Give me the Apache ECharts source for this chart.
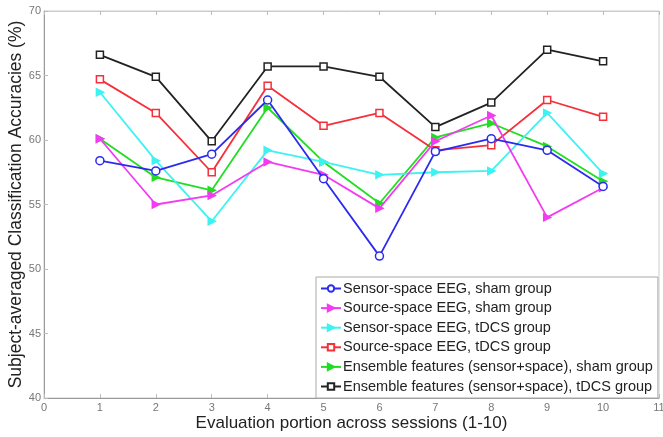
<!DOCTYPE html>
<html><head><meta charset="utf-8">
<script src="https://cdn.jsdelivr.net/npm/echarts@6/dist/echarts.min.js"></script>
<style>html,body{margin:0;padding:0;background:#fff}#c{width:663px;height:437px}</style>
</head><body><div id="c"></div>
<script>
const sessions = [1,2,3,4,5,6,7,8,9,10];
const xTicks = [0,1,2,3,4,5,6,7,8,9,10,11];
const yTicks = [40,45,50,55,60,65,70];
const seriesNames = [
  'Sensor-space EEG, sham group',
  'Source-space EEG, sham group',
  'Sensor-space EEG, tDCS group',
  'Source-space EEG, tDCS group',
  'Ensemble features (sensor+space), sham group',
  'Ensemble features (sensor+space), tDCS group'
];
const sensorSham   = [58.4, 57.6, 58.9, 63.1, 57.0, 51.0, 59.1, 60.1, 59.2, 56.4];
const sourceSham   = [60.1, 55.0, 55.7, 58.3, 57.3, 54.7, 59.9, 61.9, 54.0, 56.3];
const sensorTdcs   = [63.7, 58.4, 53.7, 59.2, 58.3, 57.3, 57.5, 57.6, 62.1, 57.4];
const sourceTdcs   = [64.7, 62.1, 57.5, 64.2, 61.1, 62.1, 59.2, 59.6, 63.1, 61.8];
const ensembleSham = [60.1, 57.1, 56.1, 62.5, 58.3, 55.1, 60.2, 61.3, 59.5, 56.8];
const ensembleTdcs = [66.6, 64.9, 59.9, 65.7, 65.7, 64.9, 61.0, 62.9, 67.0, 66.1];

const allData = [sensorSham, sourceSham, sensorTdcs, sourceTdcs, ensembleSham, ensembleTdcs];
const colors = ['#2b2bf0', '#f23cf2', '#3ef2f2', '#f5303a', '#22dd22', '#222222'];
const symbols = ['circle', 'triangle', 'triangle', 'rect', 'triangle', 'rect'];
const rot = [0, -90, -90, 0, -90, 0];
const filled = [false, true, true, false, true, false];

const chart = echarts.init(document.getElementById('c'), null, {renderer:'canvas'});
const font = 'Liberation Sans, Arial, sans-serif';
const series = allData.map((d, i) => ({
  name: seriesNames[i],
  type: 'line',
  data: sessions.map((s, j) => [s, d[j]]),
  symbol: symbols[i],
  symbolRotate: rot[i],
  symbolSize: i===0 ? 8 : 7,
  showAllSymbol: true,
  lineStyle: {color: colors[i], width: 1.8},
  itemStyle: {color: filled[i] ? colors[i] : '#fff', borderColor: colors[i], borderWidth: 1.5},
  z: 10 - i
}));
chart.setOption({
  animation: false,
  grid: {left: 44, right: 4, top: 11, bottom: 39, show: true, borderColor: '#cccccc', borderWidth: 1,
         containLabel: false, outerBoundsMode: 'none'},
  legend: {
    orient: 'vertical', left: 316, top: 277,
    itemWidth: 20, itemHeight: 8, itemGap: 4.6,
    padding: [4, 5, 4, 4],
    borderColor: '#aaaaaa', borderWidth: 1, backgroundColor: '#fff',
    textStyle: {fontFamily: font, fontSize: 14.5, color: '#222', padding: [0,0,0,-3]},
    data: seriesNames
  },
  xAxis: [{
    type: 'value', min: 0, max: 11, interval: 1,
    axisLine: {show: true, lineStyle: {color: '#999'}},
    axisTick: {show: true, inside: true, length: 4, lineStyle: {color: '#bbb'}},
    axisLabel: {fontFamily: font, fontSize: 11, color: '#777', margin: 4},
    splitLine: {show: false},
    name: 'Evaluation portion across sessions (1-10)', nameLocation: 'middle', nameGap: 17,
    nameMoveOverlap: false,
    nameTextStyle: {fontFamily: font, fontSize: 17, color: '#222'}
  }, {
    type: 'value', min: 0, max: 11, interval: 1, position: 'top',
    axisLine: {show: true, lineStyle: {color: '#ccc'}},
    axisTick: {show: true, inside: true, length: 4, lineStyle: {color: '#bbb'}},
    axisLabel: {show: false}, splitLine: {show: false}
  }],
  yAxis: {
    type: 'value', min: 40, max: 70, interval: 5,
    axisLine: {show: true, lineStyle: {color: '#999'}},
    axisTick: {show: true, inside: true, length: 4, lineStyle: {color: '#bbb'}},
    axisLabel: {fontFamily: font, fontSize: 11, color: '#777', margin: 3},
    splitLine: {show: false},
    name: 'Subject-averaged Classification Accuracies (%)', nameLocation: 'middle', nameGap: 19,
    nameMoveOverlap: false,
    nameTextStyle: {fontFamily: font, fontSize: 17.5, color: '#222'}
  },
  series: series
});
</script></body></html>
